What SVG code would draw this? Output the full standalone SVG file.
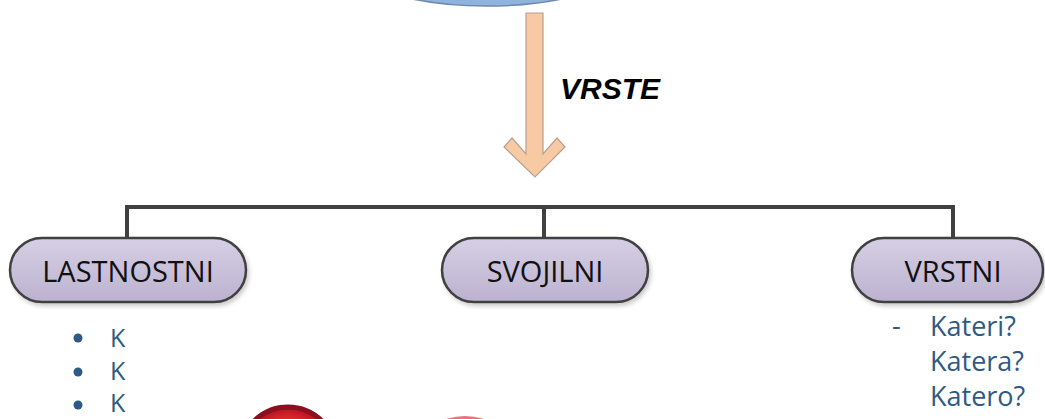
<svg xmlns="http://www.w3.org/2000/svg" width="1045" height="419" viewBox="0 0 1045 419">
<style>
.pill{fill:url(#pg);stroke:#3f3f3f;stroke-width:2.5}
.lbl{font-family:"Open Sans","Liberation Sans",sans-serif;font-size:29px;fill:#111;text-anchor:middle}
.li{font-family:"Open Sans","Liberation Sans",sans-serif;font-size:25px;fill:#2e5a84}
.li2{font-family:"Open Sans","Liberation Sans",sans-serif;font-size:27px;fill:#2e5a84}
.conn{fill:none;stroke:#404040;stroke-width:4}
</style>
<defs>
<linearGradient id="pg" x1="0" y1="0" x2="0" y2="1">
<stop offset="0" stop-color="#d6cfe4"/>
<stop offset="1" stop-color="#bcb2d0"/>
</linearGradient>
<filter id="sh" x="-10%" y="-20%" width="120%" height="150%">
<feDropShadow dx="2" dy="3" stdDeviation="2" flood-color="#000" flood-opacity="0.2"/>
</filter>
<radialGradient id="rg" cx="0.5" cy="0.5" r="0.5">
<stop offset="0.7" stop-color="#e83030"/>
<stop offset="1" stop-color="#b01020"/>
</radialGradient>
</defs>
<rect width="1045" height="419" fill="#fff"/>
<g id="top">
<ellipse cx="487" cy="-44" rx="145" ry="50" fill="#8fb3dd" stroke="#6a88b0" stroke-width="1.5"/>
</g>
<g id="arrow">
<polygon points="526,13 543,13 543,154 557,138 565,147 535,177 504,147 512,138 526,154" fill="#f7caa3" stroke="#b8a090" stroke-width="1.2"/>
<text x="560" y="99" font-family="Liberation Sans,Arial,sans-serif" font-size="30" font-weight="bold" font-style="italic" fill="#000">VRSTE</text>
</g>
<g id="connectors">
<path class="conn" d="M127,240 V207 H953 V240 M544,207 V240"/>
</g>
<g id="n-lastnostni">
<rect class="pill" x="10" y="238" width="236" height="64" rx="32" filter="url(#sh)"/>
<text class="lbl" x="128" y="282">LASTNOSTNI</text>
</g>
<g id="n-svojilni">
<rect class="pill" x="442" y="238" width="206" height="64" rx="32" filter="url(#sh)"/>
<text class="lbl" x="545" y="282">SVOJILNI</text>
</g>
<g id="n-vrstni">
<rect class="pill" x="852" y="238" width="191" height="64" rx="32" filter="url(#sh)"/>
<text class="lbl" x="953" y="282">VRSTNI</text>
</g>
<g id="list-lastnostni">
<circle cx="78" cy="338" r="4.5" fill="#2e5a84"/>
<circle cx="78" cy="372" r="4.5" fill="#2e5a84"/>
<circle cx="78" cy="405" r="4.5" fill="#2e5a84"/>
<text class="li" x="110" y="347">K</text>
<text class="li" x="110" y="380">K</text>
<text class="li" x="110" y="412">K</text>
</g>
<g id="list-vrstni">
<text class="li2" x="892" y="335">-</text>
<text class="li2" x="930" y="336">Kateri?</text>
<text class="li2" x="930" y="371">Katera?</text>
<text class="li2" x="930" y="406">Katero?</text>
</g>
<g id="bottom">
<circle cx="288" cy="455" r="48" fill="url(#rg)" stroke="#8a1020" stroke-width="5"/>
<ellipse cx="465" cy="450" rx="45" ry="34" fill="#f07080"/>
</g>
</svg>
